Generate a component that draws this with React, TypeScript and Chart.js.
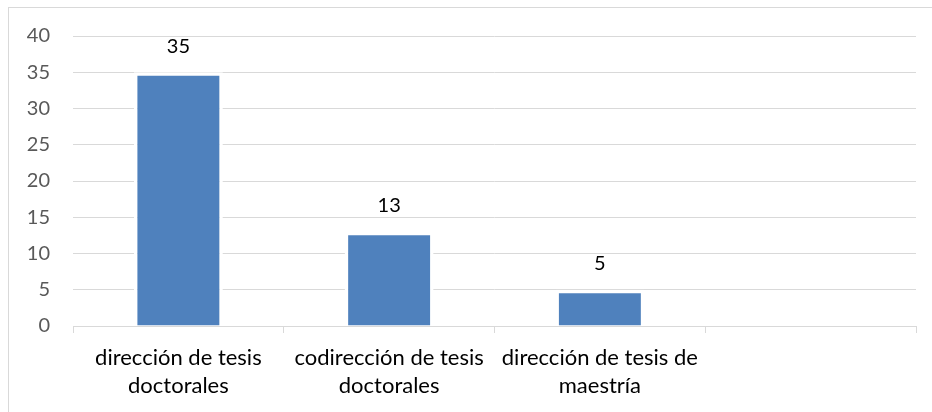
import React, { useEffect, useRef } from "react";
import { Chart, registerables } from "chart.js";

Chart.register(...registerables);

const categories: (string | string[])[] = [
  ["dirección de tesis", "doctorales"],
  ["codirección de tesis", "doctorales"],
  ["dirección de tesis de", "maestría"],
  "",
];
const values: (number | null)[] = [35, 13, 5, null];
const yTicks = [0, 5, 10, 15, 20, 25, 30, 35, 40];

const FONT = "Lato, 'Open Sans', sans-serif";

const framePlugin = {
  id: "frame",
  beforeDraw(chart: any) {
    const ctx = chart.ctx;
    ctx.save();
    ctx.fillStyle = "#ffffff";
    ctx.fillRect(0, 0, chart.width, chart.height);
    ctx.strokeStyle = "#d9d9d9";
    ctx.lineWidth = 1;
    ctx.strokeRect(8.5, 7.5, chart.width + 10, chart.height + 10);
    ctx.restore();
  },
};

const valueLabelPlugin = {
  id: "valueLabels",
  afterDatasetsDraw(chart: any) {
    const ctx = chart.ctx;
    ctx.save();
    ctx.font = `20px ${FONT}`;
    ctx.fillStyle = "#000000";
    ctx.textAlign = "center";
    ctx.textBaseline = "middle";
    chart.data.datasets.forEach((ds: any, di: number) => {
      const meta = chart.getDatasetMeta(di);
      meta.data.forEach((el: any, i: number) => {
        const v = ds.data[i];
        if (v === null || v === undefined) return;
        ctx.fillText(String(v), el.x, el.y - 26);
      });
    });
    ctx.restore();
  },
};

export default function App() {
  const ref = useRef<HTMLCanvasElement | null>(null);
  useEffect(() => {
    if (!ref.current) return;
    const chart = new Chart(ref.current, {
      type: "bar",
      data: {
        labels: categories,
        datasets: [
          {
            data: values,
            backgroundColor: "#4f81bd",
            borderColor: "#ffffff",
            borderWidth: 3.5,
            borderSkipped: "start",
            categoryPercentage: 1,
            barPercentage: 0.422,
          },
        ],
      },
      options: {
        responsive: false,
        animation: false,
        layout: { padding: { left: 0, right: 16, top: 36, bottom: 0 } },
        plugins: {
          legend: { display: false },
          tooltip: { enabled: false },
        },
        scales: {
          x: {
            grid: {
              offset: true,
              drawOnChartArea: false,
              drawTicks: true,
              tickLength: 7,
              color: "#d9d9d9",
              lineWidth: 1,
            },
            border: { display: true, color: "#d9d9d9", width: 1 },
            ticks: {
              color: "#000000",
              font: { family: FONT, size: 22, lineHeight: 1.28 },
              padding: 11,
              maxRotation: 0,
              autoSkip: false,
            },
            afterFit(axis: any) {
              axis.height = 86;
            },
          },
          y: {
            min: 0,
            max: 40,
            afterBuildTicks(axis: any) {
              axis.ticks = yTicks.map((v) => ({ value: v }));
            },
            grid: { color: "#d9d9d9", lineWidth: 1, drawTicks: false },
            border: { display: false },
            ticks: {
              color: "#595959",
              font: { family: FONT, size: 20 },
              padding: 23,
            },
            afterFit(axis: any) {
              axis.width = 73;
            },
          },
        },
      },
      plugins: [framePlugin, valueLabelPlugin],
    });
    return () => chart.destroy();
  }, []);
  return (
    <div style={{ position: "fixed", left: 0, top: 0, width: 932, height: 412 }}>
      <canvas ref={ref} width={932} height={412} style={{ display: "block" }} />
    </div>
  );
}
